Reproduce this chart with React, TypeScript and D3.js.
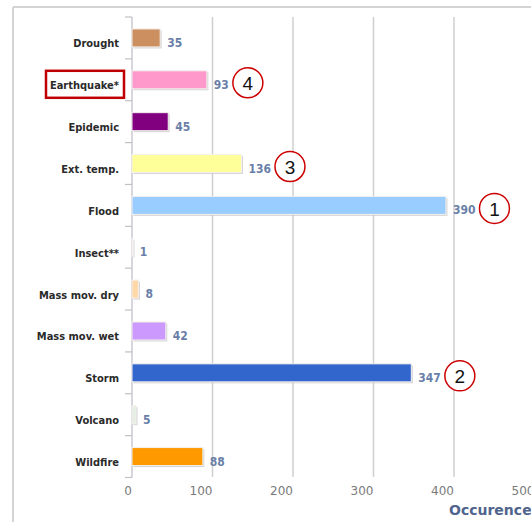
import React from "react";
import * as d3 from "d3";

const categories = ["Drought", "Earthquake*", "Epidemic", "Ext. temp.", "Flood", "Insect**", "Mass mov. dry", "Mass mov. wet", "Storm", "Volcano", "Wildfire"];
const values = [35, 93, 45, 136, 390, 1, 8, 42, 347, 5, 88];
const colors = ["#cc9060", "#ff99cc", "#800080", "#ffff99", "#99ccff", "#cce8cc", "#ffd8a8", "#cc99ff", "#3366cc", "#e4efe4", "#ff9900"];
const xTicks = [0, 100, 200, 300, 400, 500];
const axisTitle = "Occurence";
const annotations = [
  { cat: "Flood", n: "1" },
  { cat: "Storm", n: "2" },
  { cat: "Ext. temp.", n: "3" },
  { cat: "Earthquake*", n: "4" },
];
const highlighted = "Earthquake*";

const W = 531, H = 522;
const FONT = "'DejaVu Sans Condensed', 'Liberation Sans', sans-serif";

export default function App() {
  const x = d3.scaleLinear().domain([0, 500]).range([132, 534.5]);
  const y = d3.scaleBand<string>().domain(categories).range([17, 477.5]).paddingInner(0.57).paddingOuter(0.285);
  const step = y.step();
  const bw = y.bandwidth();
  const center = (c: string) => (y(c) as number) + bw / 2;
  const valW = (v: number) => String(v).length * 7.5;
  const r = 15;

  return (
    <svg width={W} height={H} style={{ position: "absolute", left: 0, top: 0, background: "#fff" }}>
      <rect x={0} y={0} width={W} height={H} fill="#fff" />
      {/* frame */}
      <line x1={13} y1={7} x2={W} y2={7} stroke="#d4d4d4" strokeWidth={2} />
      <line x1={13} y1={7} x2={13} y2={H} stroke="#d4d4d4" strokeWidth={2} />
      {/* gridlines */}
      {xTicks.filter((t) => t > 0).map((t) => (
        <line key={t} x1={x(t)} x2={x(t)} y1={17} y2={477} stroke="#cfcfcf" strokeWidth={1.5} />
      ))}
      {/* category axis */}
      <line x1={x(0)} x2={x(0)} y1={17} y2={477.5} stroke="#c8c8d0" strokeWidth={1.5} />
      {d3.range(categories.length + 1).map((i) => {
        const yy = 17 + i * step;
        return <line key={i} x1={x(0) - 7} x2={x(0)} y1={yy} y2={yy} stroke="#c0c0c8" strokeWidth={1.2} />;
      })}
      {/* bars */}
      {categories.map((c, i) => {
        const y0 = y(c) as number;
        const w = x(values[i]) - x(0);
        return (
          <g key={c}>
            <rect x={x(0) + 1.5} y={y0 + 1.5} width={Math.max(w, 1)} height={bw} fill="#c4c4c4" opacity={0.7} />
            <rect x={x(0)} y={y0} width={Math.max(w, 0.8)} height={bw} fill={colors[i]} stroke="#f4f0ee" strokeWidth={1} />
          </g>
        );
      })}
      {/* category labels */}
      {categories.map((c) => (
        <text key={c} x={119} y={center(c) + 6} textAnchor="end" dominantBaseline="central" fontFamily={FONT} fontWeight="bold" fontSize={11} fill="#2a2a2a">
          {c}
        </text>
      ))}
      {/* value labels */}
      {categories.map((c, i) => (
        <text key={c} x={x(values[i]) + 7} y={center(c) + 5} dominantBaseline="central" fontFamily={FONT} fontWeight="bold" fontSize={12} fill="#6a7fa8">
          {values[i]}
        </text>
      ))}
      {/* x tick labels */}
      {xTicks.map((t) => (
        <text key={t} x={x(t)} y={491} textAnchor="end" dominantBaseline="central" fontFamily="'DejaVu Sans', sans-serif" fontSize={12} fill="#7a7a7a">
          {t}
        </text>
      ))}
      <text x={449} y={510} dominantBaseline="central" fontFamily="'DejaVu Sans', sans-serif" fontWeight="bold" fontSize={14} fill="#50648c">
        {axisTitle}
      </text>
      {/* annotations */}
      <rect x={46} y={center(highlighted) - 9} width={78} height={27} fill="none" stroke="#c00000" strokeWidth={2.5} />
      {annotations.map((a) => {
        const v = values[categories.indexOf(a.cat)];
        const cx = x(v) + 7 + valW(v) + 4 + r;
        const cy = center(a.cat) + 3;
        return (
          <g key={a.n}>
            <circle cx={cx} cy={cy} r={r} fill="#fff" stroke="#cc0000" strokeWidth={1.5} />
            <text x={cx} y={cy + 1} textAnchor="middle" dominantBaseline="central" fontFamily="'Liberation Sans', Arial, sans-serif" fontSize={19} fill="#111">
              {a.n}
            </text>
          </g>
        );
      })}
    </svg>
  );
}
